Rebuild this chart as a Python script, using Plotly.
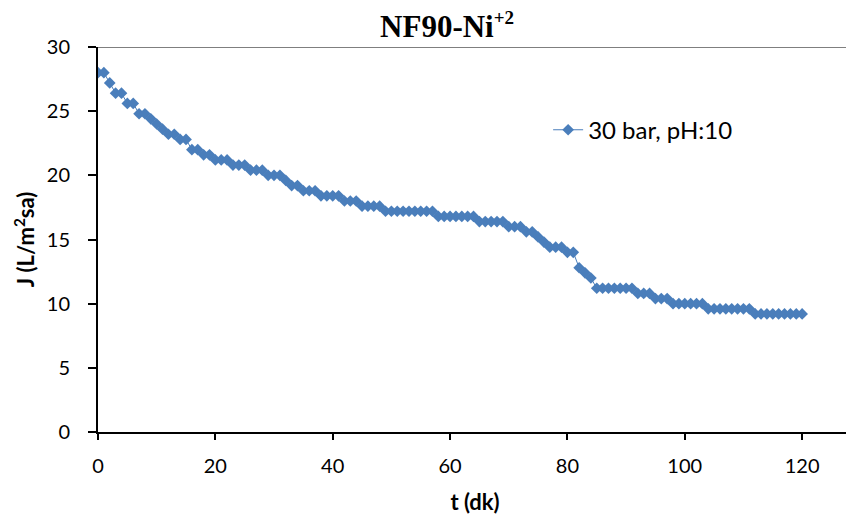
import plotly.graph_objects as go

t_min = list(range(0, 121))
flux = (
    [28.0, 28.0, 27.2, 26.4, 26.4, 25.6, 25.6, 24.8, 24.8, 24.4,
     24.0, 23.6, 23.2, 23.2, 22.8, 22.8, 22.0, 22.0, 21.6, 21.6,
     21.2, 21.2, 21.2, 20.8, 20.8, 20.8, 20.4, 20.4, 20.4, 20.0,
     20.0, 20.0, 19.6, 19.2, 19.2, 18.8, 18.8, 18.8, 18.4, 18.4,
     18.4, 18.4, 18.0, 18.0, 18.0, 17.6, 17.6, 17.6, 17.6]
    + [17.2] * 9
    + [16.8] * 7
    + [16.4] * 5
    + [16.0, 16.0, 16.0, 15.6, 15.6, 15.2, 14.8, 14.4, 14.4, 14.4,
       14.0, 14.0, 12.8, 12.4, 12.0]
    + [11.2] * 7
    + [10.8] * 3
    + [10.4] * 3
    + [10.0] * 6
    + [9.6] * 8
    + [9.2] * 9
)
series_name = "30 bar, pH:10"
x_ticks = [0, 20, 40, 60, 80, 100, 120]
y_ticks = [0, 5, 10, 15, 20, 25, 30]

color = "#4A7EBB"
font_sans = "Lato, Carlito, 'Noto Sans', sans-serif"

fig = go.Figure()
fig.add_trace(go.Scatter(
    x=t_min, y=flux, mode="lines+markers", name=series_name,
    line=dict(color=color, width=1),
    marker=dict(symbol="diamond", size=9, color=color),
))

# page has an 8px body margin, so the figure is sized to fit the 854x520 window
fig.update_layout(
    width=846, height=512,
    paper_bgcolor="white", plot_bgcolor="white",
    margin=dict(l=90, r=2, t=39, b=88),
    title=dict(text="NF90-Ni<sup><span style='font-size:19px'>+2</span></sup>",
               x=0.519, xanchor="center",
               xref="container", y=0.986, yanchor="top", pad=dict(t=0),
               font=dict(family="'Liberation Serif', 'Times New Roman', serif",
                         size=31, color="black", weight="bold")),
    showlegend=True,
    legend=dict(x=0.597, y=0.784, xanchor="left", yanchor="middle",
                bgcolor="rgba(0,0,0,0)",
                font=dict(family=font_sans, size=24, color="black")),
    font=dict(family=font_sans, size=20, color="black"),
)
fig.update_xaxes(
    range=[0, 128.5], tickvals=x_ticks, showgrid=False, zeroline=False,
    showline=True, linecolor="black", linewidth=2, automargin=False,
    ticks="outside", ticklen=6, tickwidth=1.5, tickcolor="black",
    ticklabelstandoff=9,
    title=dict(text="<b>t (dk)</b>", font=dict(family=font_sans, size=22), standoff=19),
    tickfont=dict(family=font_sans, size=20),
)
fig.update_yaxes(
    range=[0, 30], tickvals=y_ticks, showgrid=False, zeroline=False,
    showline=True, linecolor="black", linewidth=2, automargin=False,
    ticks="outside", ticklen=8, tickwidth=1.5, tickcolor="black",
    ticklabelstandoff=14,
    title=dict(text="<b>J (L/m<sup>2</sup>sa)</b>", font=dict(family=font_sans, size=22), standoff=6),
    tickfont=dict(family=font_sans, size=20),
)
fig.add_shape(type="line", xref="paper", yref="y", x0=0, x1=1, y0=30, y1=30,
              line=dict(color="#555555", width=1.5))

fig.write_html("out.html")
